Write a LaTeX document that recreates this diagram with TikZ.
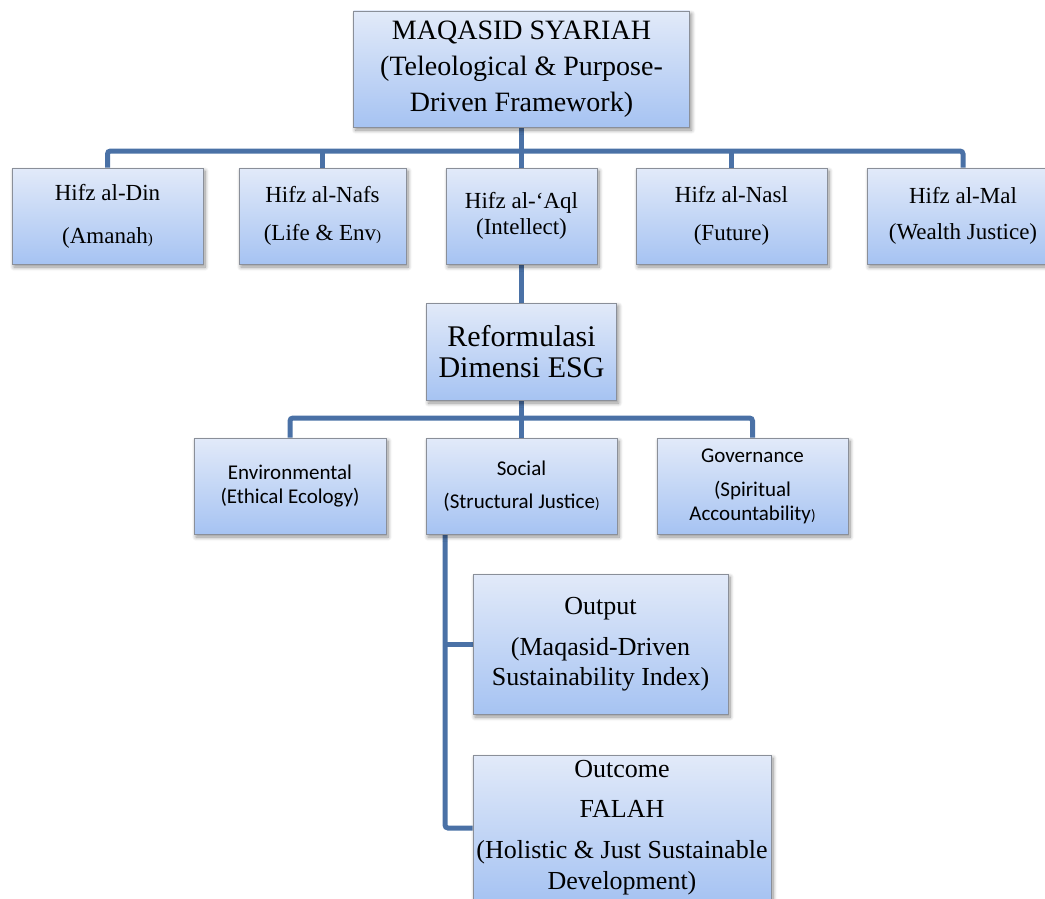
\documentclass[tikz,border=0pt]{standalone}
\usepackage{fontspec}
\setmainfont{Liberation Serif}
\newfontfamily\esgfont{Carlito}
\usetikzlibrary{shadows.blur}
\definecolor{boxtop}{HTML}{E2EAF9}
\definecolor{boxbot}{HTML}{A6C3F2}
\definecolor{boxline}{HTML}{8A8F99}
\definecolor{conncol}{HTML}{4A71A6}
\pgfdeclarelayer{bg}
\pgfsetlayers{bg,main}
\newcommand{\smallparen}{{\fontsize{15}{15}\selectfont )}}
\tikzset{
  box/.style={draw=boxline, line width=0.8pt, top color=boxtop, bottom color=boxbot,
    align=center, inner sep=0pt,
    blur shadow={shadow xshift=2pt, shadow yshift=-3pt, shadow blur steps=8, shadow blur radius=4pt, shadow opacity=45}},
  hifz/.style={box, minimum height=96pt, font=\fontsize{23}{26}\selectfont},
  esg/.style={box, minimum width=191pt, minimum height=96pt, font=\esgfont\fontsize{21}{24}\selectfont},
  conn/.style={draw=conncol, line width=5pt, rounded corners=3pt},
}
\begin{document}
\begin{tikzpicture}[x=1pt,y=-1pt]
\useasboundingbox (0,0) rectangle (1045,899);

\node[box, minimum width=336pt, minimum height=116pt, font=\fontsize{28}{36}\selectfont] (top) at (521.5,69)
  {MAQASID SYARIAH\\(Teleological \& Purpose-\\Driven Framework)};

\node[hifz, minimum width=191pt] (din) at (107.5,216) {Hifz al-Din\\[17pt](Amanah\smallparen};
\node[hifz, minimum width=167pt] (nafs) at (322.5,216) {Hifz al-Nafs\\[12pt](Life \& Env\smallparen};
\node[hifz, minimum width=151pt] (aql) at (521.5,216) {Hifz al-‘Aql\\(Intellect)};
\node[hifz, minimum width=191pt] (nasl) at (731.5,216) {Hifz al-Nasl\\[12pt](Future)};
\node[hifz, minimum width=192pt] (mal) at (963,216) {Hifz al-Mal\\[10pt](Wealth Justice)};

\node[box, minimum width=190pt, minimum height=97pt, font=\fontsize{30}{31}\selectfont] (ref) at (521.5,351.5)
  {Reformulasi\\Dimensi ESG};

\node[esg, minimum width=192pt] (env) at (290,486) {Environmental\\(Ethical Ecology)};
\node[esg] (soc) at (521.5,486) {Social\\[9pt](Structural Justice\smallparen};
\node[esg] (gov) at (752.5,486) {Governance\\[10pt](Spiritual\\Accountability\smallparen};

\node[box, minimum width=255pt, minimum height=140pt, font=\fontsize{26}{30}\selectfont] (out) at (600.5,644)
  {Output\\[11pt](Maqasid-Driven\\Sustainability Index)};
\node[box, minimum width=298pt, minimum height=146pt, font=\fontsize{26}{31}\selectfont] (outc) at (622,828)
  {Outcome\\[9pt]FALAH\\[10pt](Holistic \& Just Sustainable\\Development)};

\coordinate (busy) at (521.5,151);
\coordinate (esgy) at (521.5,418);
\coordinate (sx) at (445,534);

\begin{pgfonlayer}{bg}
\draw[conn] (top.south) -- (aql.north);
\draw[conn] (din.north) |- (mal.north |- busy) -- (mal.north);
\draw[conn] (nafs.north) -- (nafs.north |- busy);
\draw[conn] (nasl.north) -- (nasl.north |- busy);
\draw[conn] (aql.south) -- (ref.north);
\draw[conn] (ref.south) -- (soc.north);
\draw[conn] (env.north) |- (gov.north |- esgy) -- (gov.north);
\draw[conn] (sx) |- (outc.west);
\draw[conn] (sx |- out.west) -- (out.west);
\end{pgfonlayer}
\end{tikzpicture}
\end{document}
